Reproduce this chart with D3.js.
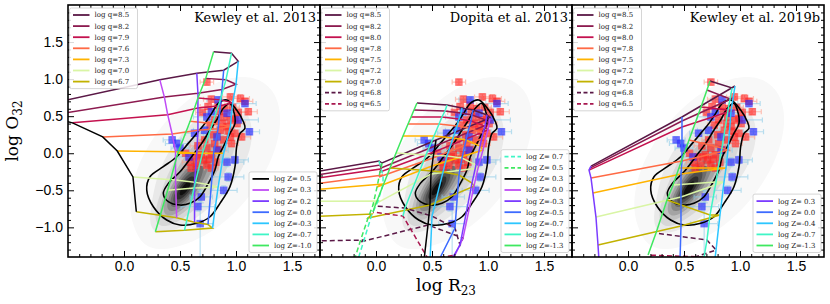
<!DOCTYPE html>
<html>
<head>
<meta charset="utf-8">
<script src="https://cdn.jsdelivr.net/npm/d3@7"></script>
<style>
  body { margin: 0; background: #fff; }
  svg { display: block; font-family: "DejaVu Serif", serif; }
</style>
</head>
<body>
<div id="chart"></div>
<script>
// ---- axes ----
const xDomain = [-0.5, 1.75];
const yDomain = [-1.4, 2.0];
const xTicks = [0.0, 0.5, 1.0, 1.5];
const yTicks = [-1.0, -0.5, 0.0, 0.5, 1.0, 1.5];
const panelTitles = ["Kewley et al. 2013", "Dopita et al. 2013", "Kewley et al. 2019b"];

// ---- colours for ionisation parameter lines ----
const qColors = ["#5a1846", "#8c1a4f", "#c4124f", "#ff6a45", "#ffb300", "#d9f5a5", "#c2b200", "#5a1846", "#a8174f"];

// ---- Kewley et al. 2013 grid (rows = log q, columns = log Z) ----
const k13Q = [8.5, 8.2, 7.9, 7.6, 7.3, 7.0, 6.7];
const k13Z = [0.5, 0.3, 0.2, 0.0, -0.3, -0.7, -1.0];
const k13ZColors = ["#000000", "#c04cf5", "#7b3cff", "#3d6bff", "#2cc6ff", "#3ff5c6", "#3fe860"];
const k13R23 = [
  [-0.93, 0.32, 0.65, 0.89, 1.02, 0.96, 0.80],
  [-0.71, 0.36, 0.66, 0.875, 1.00, 0.91, 0.73],
  [-0.46, 0.39, 0.66, 0.86, 0.97, 0.86, 0.66],
  [-0.19, 0.43, 0.66, 0.84, 0.95, 0.79, 0.59],
  [-0.06, 0.46, 0.65, 0.80, 0.89, 0.70, 0.48],
  [0.08, 0.46, 0.63, 0.78, 0.84, 0.625, 0.39],
  [0.11, 0.47, 0.63, 0.75, 0.79, 0.54, 0.28]
];
const k13O32 = [
  [0.58, 0.99, 1.08, 1.12, 1.24, 1.35, 1.37],
  [0.50, 0.76, 0.81, 0.86, 0.93, 0.99, 1.01],
  [0.41, 0.52, 0.61, 0.64, 0.68, 0.72, 0.745],
  [0.22, 0.26, 0.31, 0.33, 0.36, 0.40, 0.43],
  [0.03, 0.02, 0.0, 0.0, 0.0, 0.0, 0.0],
  [-0.32, -0.36, -0.39, -0.43, -0.46, -0.47, -0.50],
  [-0.79, -0.87, -0.93, -0.96, -1.01, -1.04, -1.06]
];

// ---- Dopita et al. 2013 grid (first column: log Z = 1.0, not labelled) ----
const dopQ = [8.5, 8.2, 8.0, 7.8, 7.5, 7.2, 7.0, 6.8, 6.5];
const dopZ = [1.0, 0.7, 0.5, 0.3, 0.0, -0.3, -0.5, -0.7, -1.0, -1.3];
const dopZColors = [null, "#3ff5c6", "#3fe860", "#000000", "#c04cf5", "#7b3cff", "#3d6bff", "#2cc6ff", "#3ff5c6", "#3fe860"];
const dopZDashed = [false, true, true, false, false, false, false, false, false, false];
const dopR23 = [
  [-0.77, 0.027, 0.054, 0.536, 1.018, 0.991, 0.866, 0.768, 0.634, 0.366],
  [-0.77, 0.036, 0.045, 0.527, 1.009, 0.982, 0.857, 0.759, 0.616, 0.339],
  [-0.77, 0.045, 0.036, 0.518, 1.000, 0.973, 0.848, 0.741, 0.589, 0.313],
  [-0.77, 0.063, 0.027, 0.509, 0.982, 0.955, 0.830, 0.723, 0.563, 0.286],
  [-0.77, 0.063, 0.009, 0.500, 0.955, 0.929, 0.804, 0.688, 0.518, 0.241],
  [-0.77, 0.018, -0.027, 0.491, 0.911, 0.893, 0.768, 0.634, 0.446, 0.179],
  [-0.77, -0.036, -0.071, 0.482, 0.875, 0.857, 0.741, 0.598, 0.393, 0.125],
  [-0.77, -0.107, -0.143, 0.464, 0.777, 0.750, 0.705, 0.500, 0.259, -0.009],
  [-0.77, -0.232, -0.277, 0.429, 0.705, 0.661, 0.571, 0.482, 0.241, -0.027]
];
const dopO32 = [
  [-0.31, -0.105, -0.132, 0.178, 0.475, 0.516, 0.583, 0.610, 0.650, 0.678],
  [-0.35, -0.159, -0.200, 0.097, 0.394, 0.448, 0.516, 0.543, 0.570, 0.583],
  [-0.39, -0.213, -0.254, 0.016, 0.313, 0.367, 0.435, 0.462, 0.489, 0.489],
  [-0.46, -0.294, -0.321, -0.065, 0.219, 0.273, 0.340, 0.367, 0.394, 0.394],
  [-0.52, -0.416, -0.456, -0.173, 0.043, 0.097, 0.178, 0.205, 0.232, 0.232],
  [-0.65, -0.645, -0.699, -0.281, -0.200, -0.159, -0.065, -0.038, -0.024, 0.003],
  [-0.87, -0.820, -0.874, -0.699, -0.443, -0.402, -0.294, -0.254, -0.227, -0.200],
  [-1.19, -1.171, -1.198, -0.969, -1.144, -1.239, -1.009, -0.848, -0.740, -0.713],
  [-1.78, -1.779, -1.846, -1.441, -1.374, -1.468, -1.414, -1.468, -0.848, -0.794]
];

// ---- Kewley et al. 2019b grid ----
const k19Q = [8.5, 8.2, 8.0, 7.8, 7.5, 7.2, 7.0, 6.8, 6.5];
const k19Z = [0.3, 0.0, -0.4, -0.7, -1.3];
const k19ZColors = ["#7b3cff", "#3d6bff", "#2cc6ff", "#3ff5c6", "#3fe860"];
const k19R23 = [
  [-0.330, 0.482, 0.955, 0.929, 0.732],
  [-0.339, 0.482, 0.938, 0.911, 0.705],
  [-0.348, 0.482, 0.920, 0.893, 0.652],
  [-0.330, 0.482, 0.893, 0.839, 0.545],
  [-0.313, 0.473, 0.875, 0.804, 0.455],
  [-0.286, 0.473, 0.857, 0.786, 0.402],
  [-0.268, 0.473, 0.821, 0.732, 0.348],
  [-0.250, 0.464, 0.786, 0.705, 0.250],
  [-0.241, 0.455, 0.759, 0.679, 0.179]
];
const k19O32 = [
  [-0.173, 0.489, 0.907, 0.880, 0.974],
  [-0.200, 0.435, 0.745, 0.731, 0.853],
  [-0.227, 0.354, 0.570, 0.583, 0.624],
  [-0.335, -0.105, 0.043, 0.070, 0.178],
  [-0.537, -0.281, -0.200, -0.200, -0.200],
  [-0.861, -0.591, -0.389, -0.389, -0.429],
  [-1.239, -0.982, -0.834, -0.834, -0.632],
  [-1.644, -1.468, -1.306, -1.171, -1.077],
  [-1.981, -1.846, -1.644, -1.401, -1.374]
];

// ---- observed galaxies ----
const redR23 = [0.74, 0.75, 0.84, 0.95, 1.04, 1.08, 1.11, 0.81, 0.89, 0.95, 1.01, 0.92, 0.86, 0.77, 0.99, 0.95, 0.89, 0.96, 0.81, 0.74,
  0.69, 0.62, 0.55, 0.59, 0.65, 0.74, 0.78, 0.71, 0.78, 0.90, 0.97, 0.85, 1.02, 0.93, 0.88, 0.80, 1.05, 0.72, 0.66, 0.76,
  0.60, 0.67, 0.84, 0.99, 0.78, 0.70, 0.82];
const redO32 = [0.96, 0.63, 0.65, 0.76, 0.74, 0.70, 0.56, 0.45, 0.49, 0.45, 0.40, 0.36, 0.31, 0.38, 0.27, 0.22, 0.18, 0.13, 0.13, 0.07,
  -0.02, -0.05, 0.00, -0.12, -0.16, -0.16, -0.20, -0.09, -0.02, 0.60, 0.62, 0.56, 0.55, 0.30, 0.40, 0.25, 0.22, 0.18, 0.10, -0.08,
  -0.20, -0.05, 0.05, 0.47, 0.73, 0.55, -0.12];
const redErrR23 = [0.06, 0.07, 0.06, 0.07, 0.08, 0.07, 0.08, 0.06, 0.07, 0.06, 0.07, 0.06, 0.07, 0.06, 0.07, 0.06, 0.07, 0.06, 0.06, 0.07,
  0.06, 0.07, 0.06, 0.07, 0.06, 0.07, 0.06, 0.06, 0.07, 0.07, 0.06, 0.07, 0.08, 0.06, 0.07, 0.06, 0.08, 0.06, 0.07, 0.06,
  0.07, 0.06, 0.07, 0.06, 0.07, 0.06, 0.07];
const redErrO32 = [0.04, 0.04, 0.03, 0.04, 0.05, 0.04, 0.04, 0.03, 0.04, 0.03, 0.04, 0.03, 0.04, 0.04, 0.03, 0.04, 0.03, 0.04, 0.03, 0.04,
  0.03, 0.04, 0.03, 0.04, 0.03, 0.04, 0.03, 0.04, 0.03, 0.04, 0.03, 0.04, 0.05, 0.03, 0.04, 0.03, 0.04, 0.03, 0.04, 0.03,
  0.04, 0.03, 0.04, 0.03, 0.04, 0.03, 0.04];
const blueR23 = [0.43, 0.47, 0.63, 0.74, 0.84, 0.92, 1.02, 1.12, 0.83, 0.92, 0.99, 0.93, 0.89, 0.66, 0.68, 0.69, 0.50, 0.83, 0.78, 0.72, 1.08, 0.58];
const blueO32 = [0.18, 0.13, 0.27, 0.49, 0.72, 0.54, 0.45, 0.29, 0.04, -0.12, -0.09, -0.32, -0.50, -0.72, -0.95, -0.59, 0.07, 0.22, 0.56, 0.31, 0.67, -0.05];
const blueErrR23 = [0.08, 0.10, 0.08, 0.12, 0.10, 0.12, 0.18, 0.09, 0.10, 0.15, 0.12, 0.14, 0.12, 0.15, 0.12, 0.10, 0.08, 0.10, 0.10, 0.10, 0.10, 0.09];
const blueErrO32 = [0.04, 0.05, 0.04, 0.05, 0.04, 0.05, 0.05, 0.04, 0.05, 0.06, 0.05, 0.06, 0.06, 0.06, 0.45, 0.08, 0.04, 0.05, 0.04, 0.05, 0.04, 0.05];

// ---- SDSS background: gaussian components of the density ----
const densCx = [0.52, 0.64, 0.72];
const densCy = [-0.52, -0.25, -0.12];
const densSx = [0.10, 0.15, 0.34];
const densSy = [0.19, 0.32, 0.58];
const densRho = [0.75, 0.70, 0.50];
const densW = [1.0, 0.5, 0.12];
const densLevels = [0.012, 0.04, 0.08, 0.15, 0.25, 0.38, 0.52, 0.66, 0.8, 0.92];

// ---- black contours ----
const outerR23 = [0.917, 1.006, 1.066, 1.080, 1.036, 1.006, 0.991, 0.946, 0.857, 0.768, 0.649, 0.500, 0.381, 0.262, 0.203, 0.232, 0.351, 0.470, 0.574, 0.649, 0.723, 0.783, 0.842];
const outerO32 = [0.718, 0.583, 0.425, 0.336, 0.268, 0.088, -0.182, -0.452, -0.676, -0.857, -0.946, -0.969, -0.901, -0.722, -0.497, -0.317, -0.182, -0.047, 0.133, 0.268, 0.403, 0.538, 0.673];
const innerR23 = [0.946, 0.976, 0.991, 0.946, 0.887, 0.842, 0.812, 0.753, 0.679, 0.589, 0.500, 0.396, 0.351, 0.396, 0.500, 0.604, 0.694, 0.768, 0.827, 0.887];
const innerO32 = [0.673, 0.583, 0.403, 0.268, 0.088, -0.047, -0.227, -0.407, -0.587, -0.676, -0.699, -0.654, -0.542, -0.407, -0.250, -0.047, 0.133, 0.313, 0.448, 0.606];

const models = [
  { q: k13Q, z: k13Z, r23: k13R23, o32: k13O32, zColors: k13ZColors, zDashed: k13Z.map(() => false) },
  { q: dopQ, z: dopZ, r23: dopR23, o32: dopO32, zColors: dopZColors, zDashed: dopZDashed },
  { q: k19Q, z: k19Z, r23: k19R23, o32: k19O32, zColors: k19ZColors, zDashed: k19Z.map(() => false) }
];

const W = 830, H = 304;
const panelLeft = [68, 320, 572];
const panelTop = 5, panelSize = 252;

const svg = d3.select("#chart").append("svg").attr("width", W).attr("height", H);

// density grid
const step = 0.01;
const nx = Math.round((xDomain[1] - xDomain[0]) / step) + 1;
const ny = Math.round((yDomain[1] - yDomain[0]) / step) + 1;
const dens = new Float64Array(nx * ny);
for (let j = 0; j < ny; j++) {
  const yv = yDomain[0] + j * step;
  for (let i = 0; i < nx; i++) {
    const xv = xDomain[0] + i * step;
    let s = 0;
    for (let c = 0; c < densW.length; c++) {
      const dx = (xv - densCx[c]) / densSx[c], dy = (yv - densCy[c]) / densSy[c], r = densRho[c];
      s += densW[c] * Math.exp(-(dx * dx - 2 * r * dx * dy + dy * dy) / (2 * (1 - r * r)));
    }
    dens[j * nx + i] = s;
  }
}
const densMax = d3.max(dens);
const densContours = d3.contours().size([nx, ny]).thresholds(densLevels.map(l => l * densMax))(dens);
const densColor = d3.scaleLinear().domain([0, densLevels.length - 1]).range([0.06, 0.95]);

function legendBox(g, left, top, items) {
  const h = (items.length - 1) * 11.1 + 14;
  g.append("rect").attr("x", left).attr("y", top).attr("width", 68).attr("height", h)
    .attr("rx", 2).attr("fill", "#fff").attr("fill-opacity", 0.85).attr("stroke", "#cccccc").attr("stroke-width", 0.8);
  items.forEach((it, i) => {
    const cy = top + 7 + i * 11.1;
    g.append("line").attr("x1", left + 3.5).attr("x2", left + 20).attr("y1", cy).attr("y2", cy)
      .attr("stroke", it.color).attr("stroke-width", 1.8).attr("stroke-dasharray", it.dashed ? "4,2.5" : null);
    g.append("text").attr("x", left + 25).attr("y", cy).attr("dy", "0.35em")
      .attr("font-size", "7px").attr("fill", "#222").text(it.label);
  });
}

models.forEach((m, k) => {
  const x0 = panelLeft[k];
  const xs = d3.scaleLinear().domain(xDomain).range([x0, x0 + panelSize]);
  const ys = d3.scaleLinear().domain(yDomain).range([panelTop + panelSize, panelTop]);

  svg.append("clipPath").attr("id", "clip" + k).append("rect")
    .attr("x", x0).attr("y", panelTop).attr("width", panelSize).attr("height", panelSize);
  const plot = svg.append("g").attr("clip-path", `url(#clip${k})`);

  // background density
  const proj = d3.geoTransform({
    point: function(px, py) { this.stream.point(xs(xDomain[0] + px * step), ys(yDomain[0] + py * step)); }
  });
  plot.append("g").selectAll("path").data(densContours).join("path")
    .attr("d", d3.geoPath(proj))
    .attr("fill", (d, i) => d3.interpolateGreys(densColor(i)));

  // error bars
  const errG = plot.append("g");
  function errors(r, o, er, eo, color) {
    r.forEach((v, i) => {
      const cx = xs(v), cy = ys(o[i]);
      const xa = xs(v - er[i]), xb = xs(v + er[i]);
      const ya = ys(o[i] + eo[i]), yb = ys(o[i] - eo[i]);
      const p = d3.path();
      p.moveTo(xa, cy); p.lineTo(xb, cy);
      p.moveTo(cx, ya); p.lineTo(cx, yb);
      p.moveTo(xa, cy - 2.5); p.lineTo(xa, cy + 2.5);
      p.moveTo(xb, cy - 2.5); p.lineTo(xb, cy + 2.5);
      p.moveTo(cx - 2.5, ya); p.lineTo(cx + 2.5, ya);
      p.moveTo(cx - 2.5, yb); p.lineTo(cx + 2.5, yb);
      errG.append("path").attr("d", p.toString()).attr("stroke", color)
        .attr("stroke-width", 1.2).attr("fill", "none").attr("stroke-opacity", 0.6);
    });
  }
  errors(redR23, redO32, redErrR23, redErrO32, "#ff9a86");
  errors(blueR23, blueO32, blueErrR23, blueErrO32, "#8ccbe8");

  // squares
  const sq = 7.5;
  plot.append("g").selectAll("rect").data(redR23).join("rect")
    .attr("x", (d) => xs(d) - sq / 2).attr("y", (d, i) => ys(redO32[i]) - sq / 2)
    .attr("width", sq).attr("height", sq).attr("fill", "#ff2020").attr("fill-opacity", 0.6);
  plot.append("g").selectAll("rect").data(blueR23).join("rect")
    .attr("x", (d) => xs(d) - sq / 2).attr("y", (d, i) => ys(blueO32[i]) - sq / 2)
    .attr("width", sq).attr("height", sq).attr("fill", "#2626ff").attr("fill-opacity", 0.65);

  // black contours
  const closed = d3.line().x(d => xs(d[0])).y(d => ys(d[1])).curve(d3.curveCatmullRomClosed);
  plot.append("path").attr("d", closed(d3.zip(outerR23, outerO32)))
    .attr("fill", "none").attr("stroke", "#000").attr("stroke-width", 1.6);
  plot.append("path").attr("d", closed(d3.zip(innerR23, innerO32)))
    .attr("fill", "none").attr("stroke", "#000").attr("stroke-width", 1.6);

  // model grid
  const line = d3.line().x(d => xs(d[0])).y(d => ys(d[1]));
  m.q.forEach((q, i) => {
    plot.append("path").attr("d", line(d3.zip(m.r23[i], m.o32[i])))
      .attr("fill", "none").attr("stroke", qColors[i]).attr("stroke-width", 1.5)
      .attr("stroke-dasharray", q < 6.9 && m.q.length > 7 ? "5,3" : null);
  });
  m.z.forEach((z, j) => {
    if (!m.zColors[j]) return;
    plot.append("path").attr("d", line(m.q.map((q, i) => [m.r23[i][j], m.o32[i][j]])))
      .attr("fill", "none").attr("stroke", m.zColors[j]).attr("stroke-width", 1.5)
      .attr("stroke-dasharray", m.zDashed[j] ? "5,3" : null);
  });

  // frame and ticks
  const minorX = d3.range(-0.4, 1.75, 0.1).filter(v => Math.abs(v * 2 - Math.round(v * 2)) > 0.01);
  const minorY = d3.range(-1.3, 2.0, 0.1).filter(v => Math.abs(v * 2 - Math.round(v * 2)) > 0.01);
  const ax = svg.append("g").attr("font-family", "DejaVu Serif, serif");
  const bottom = ax.append("g").attr("transform", `translate(0,${panelTop + panelSize})`)
    .call(d3.axisBottom(xs).tickValues(xTicks).tickSize(-6).tickPadding(4).tickFormat(d3.format(".1f")));
  bottom.selectAll("text").attr("font-size", "14px").attr("fill", "#000");
  ax.append("g").attr("transform", `translate(0,${panelTop + panelSize})`)
    .call(d3.axisBottom(xs).tickValues(minorX).tickSize(-3).tickFormat(""));
  ax.append("g").attr("transform", `translate(0,${panelTop})`)
    .call(d3.axisTop(xs).tickValues(xTicks).tickSize(-6).tickFormat(""));
  ax.append("g").attr("transform", `translate(0,${panelTop})`)
    .call(d3.axisTop(xs).tickValues(minorX).tickSize(-3).tickFormat(""));
  const left = ax.append("g").attr("transform", `translate(${x0},0)`)
    .call(d3.axisLeft(ys).tickValues(yTicks).tickSize(-6).tickPadding(5).tickFormat(k === 0 ? d3.format(".1f") : ""));
  left.selectAll("text").attr("font-size", "14px").attr("fill", "#000");
  ax.append("g").attr("transform", `translate(${x0},0)`)
    .call(d3.axisLeft(ys).tickValues(minorY).tickSize(-3).tickFormat(""));
  ax.append("g").attr("transform", `translate(${x0 + panelSize},0)`)
    .call(d3.axisRight(ys).tickValues(yTicks).tickSize(-6).tickFormat(""));
  ax.append("g").attr("transform", `translate(${x0 + panelSize},0)`)
    .call(d3.axisRight(ys).tickValues(minorY).tickSize(-3).tickFormat(""));
  ax.selectAll(".domain").remove();
  ax.selectAll(".tick line").attr("stroke", "#000").attr("stroke-width", 1);
  svg.append("rect").attr("x", x0).attr("y", panelTop).attr("width", panelSize).attr("height", panelSize)
    .attr("fill", "none").attr("stroke", "#000").attr("stroke-width", 1.6);

  // title
  svg.append("text").attr("x", x0 + panelSize - 4).attr("y", panelTop + 17)
    .attr("text-anchor", "end").attr("font-size", "13px").attr("fill", "#000").text(panelTitles[k]);

  // legends
  const lg = svg.append("g");
  legendBox(lg, x0 + 1.5, panelTop + 3,
    m.q.map((q, i) => ({ label: "log q=" + q.toFixed(1), color: qColors[i], dashed: q < 6.9 && m.q.length > 7 })));
  const zItems = [];
  m.z.forEach((z, j) => {
    if (!m.zColors[j]) return;
    zItems.push({ label: "log Z=" + (z >= 0 ? " " : "") + z.toFixed(1), color: m.zColors[j], dashed: m.zDashed[j] });
  });
  const zh = (zItems.length - 1) * 11.1 + 14;
  legendBox(lg, x0 + panelSize - 71, panelTop + panelSize - 4.5 - zh, zItems);
});

// axis labels
const yl = svg.append("text").attr("transform", "translate(18,131) rotate(-90)")
  .attr("text-anchor", "middle").attr("font-size", "17px").attr("fill", "#000");
yl.append("tspan").text("log O");
yl.append("tspan").attr("dy", "0.3em").attr("font-size", "12px").text("32");

const xl = svg.append("text").attr("x", 446).attr("y", 291)
  .attr("text-anchor", "middle").attr("font-size", "17px").attr("fill", "#000");
xl.append("tspan").text("log R");
xl.append("tspan").attr("dy", "0.3em").attr("font-size", "12px").text("23");
</script>
</body>
</html>
